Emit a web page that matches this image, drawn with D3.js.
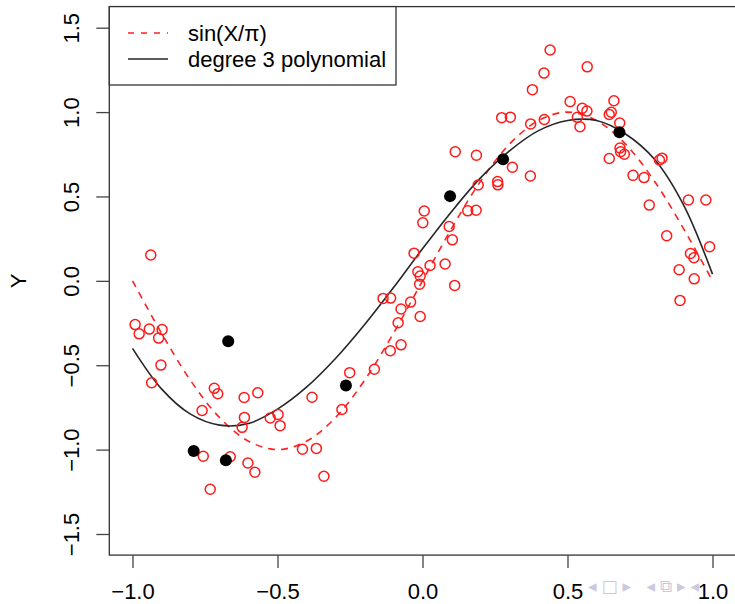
<!DOCTYPE html>
<html>
<head>
<meta charset="utf-8">
<script src="https://cdn.jsdelivr.net/npm/d3@7"></script>
<style>
  body { margin: 0; background: #fff; }
  svg { display: block; font-family: "Liberation Sans", Arial, sans-serif; }
</style>
</head>
<body>
<svg id="chart"></svg>
<script>
var width = 735, height = 604;

// noisy observations (red open circles)
var obsX = [-0.937,-0.991,-0.977,-0.942,-0.898,-0.910,-0.902,-0.934,-0.718,-0.706,-0.760,-0.615,-0.568,-0.614,-0.622,-0.525,
  -0.756,-0.663,-0.602,-0.578,-0.732,-0.498,-0.491,-0.381,-0.278,-0.251,-0.414,-0.366,-0.340,-0.166,-0.111,-0.074,-0.084,
  -0.074,-0.136,-0.110,-0.041,-0.008,-0.010,-0.008,-0.016,-0.029,0.026,0.078,0.111,0.103,0.092,0.001,0.006,0.156,0.185,
  0.113,0.186,0.192,0.259,0.260,0.310,0.372,0.273,0.303,0.373,0.420,0.379,0.419,0.440,0.568,0.509,0.551,0.567,0.534,0.543,
  0.660,0.651,0.644,0.680,0.681,0.683,0.696,0.644,0.726,0.764,0.817,0.826,0.782,0.917,0.977,0.842,0.990,0.924,0.936,0.885,
  0.937,0.888];
var obsY = [0.153,-0.259,-0.314,-0.286,-0.289,-0.339,-0.499,-0.604,-0.637,-0.669,-0.768,-0.691,-0.663,-0.809,-0.868,-0.813,
  -1.039,-1.042,-1.079,-1.134,-1.235,-0.792,-0.858,-0.690,-0.762,-0.544,-0.998,-0.993,-1.158,-0.524,-0.414,-0.379,-0.248,
  -0.167,-0.104,-0.102,-0.126,-0.211,-0.020,0.028,0.054,0.164,0.091,0.100,-0.027,0.243,0.322,0.344,0.414,0.415,0.418,
  0.765,0.744,0.568,0.588,0.569,0.673,0.621,0.967,0.970,0.930,0.956,1.133,1.231,1.368,1.268,1.062,1.023,1.006,0.969,0.913,
  1.067,0.999,0.986,0.935,0.787,0.765,0.750,0.725,0.625,0.612,0.716,0.727,0.449,0.479,0.479,0.267,0.202,0.162,0.137,0.066,
  0.012,-0.116];

// highlighted sample (black dots)
var sampleX = [-0.789,-0.678,-0.670,-0.264,0.095,0.278,0.679];
var sampleY = [-1.008,-1.063,-0.358,-0.620,0.502,0.720,0.880];

// curves
var curveX = [-1.0,-0.9,-0.8,-0.7,-0.6,-0.5,-0.4,-0.3,-0.2,-0.1,0.0,0.1,0.2,0.3,0.4,0.5,0.6,0.7,0.8,0.9,1.0];
var sinY   = [0,-0.31,-0.59,-0.81,-0.95,-1.0,-0.95,-0.81,-0.59,-0.31,0,0.31,0.59,0.81,0.95,1.0,0.95,0.81,0.59,0.31,0];
var polyY  = [-0.40,-0.64,-0.79,-0.855,-0.845,-0.76,-0.63,-0.46,-0.26,-0.04,0.19,0.41,0.61,0.77,0.89,0.95,0.95,0.87,0.72,0.45,0.04];

var xTicks = [-1.0,-0.5,0.0,0.5,1.0];
var yTicks = [-1.5,-1.0,-0.5,0.0,0.5,1.0,1.5];
var legendLabels = ["sin(X/\u03c0)", "degree 3 polynomial"];

var svg = d3.select("#chart").attr("width", width).attr("height", height);

var xScale = d3.scaleLinear().domain([-1, 1]).range([132.5, 712.5]);
var yScale = d3.scaleLinear().domain([-1.5, 1.5]).range([534, 27.7]);

var x0 = xScale(-1.08), x1 = xScale(1.08);
var y0 = yScale(-1.625), y1 = yScale(1.625);

// curves
var line = d3.line()
  .x(function(d){ return xScale(d[0]); })
  .y(function(d){ return yScale(d[1]); })
  .curve(d3.curveCatmullRom);

svg.append("path")
  .attr("d", line(d3.zip(curveX, sinY)))
  .attr("fill", "none")
  .attr("stroke", "#ff2020")
  .attr("stroke-width", 1.6)
  .attr("stroke-dasharray", "7,6");

svg.append("path")
  .attr("d", line(d3.zip(curveX, polyY)))
  .attr("fill", "none")
  .attr("stroke", "#262626")
  .attr("stroke-width", 1.6);

// points
svg.append("g").selectAll("circle")
  .data(d3.zip(obsX, obsY))
  .enter().append("circle")
  .attr("cx", d => xScale(d[0]))
  .attr("cy", d => yScale(d[1]))
  .attr("r", 5)
  .attr("fill", "none")
  .attr("stroke", "#ff1a1a")
  .attr("stroke-width", 1.5);

svg.append("g").selectAll("circle")
  .data(d3.zip(sampleX, sampleY))
  .enter().append("circle")
  .attr("cx", d => xScale(d[0]))
  .attr("cy", d => yScale(d[1]))
  .attr("r", 6)
  .attr("fill", "#000");

// box
svg.append("rect")
  .attr("x", x0).attr("y", y1)
  .attr("width", x1 - x0).attr("height", y0 - y1)
  .attr("fill", "none")
  .attr("stroke", "#333")
  .attr("stroke-width", 1.3);

// axes
var fmt = d3.format(".1f");
var xAxis = d3.axisBottom(xScale).tickValues(xTicks).tickFormat(fmt).tickSize(13);
var gx = svg.append("g")
  .attr("transform", "translate(0," + y0 + ")")
  .call(xAxis);
gx.select(".domain").remove();
gx.selectAll("line").attr("stroke", "#444").attr("stroke-width", 1.3);
gx.selectAll("text")
  .attr("y", 44).attr("dy", 0)
  .attr("fill", "#000")
  .style("font-size", "22px")
  .style("font-family", "Liberation Sans, Arial, sans-serif");

var yAxis = d3.axisLeft(yScale).tickValues(yTicks).tickFormat(fmt).tickSize(13);
var gy = svg.append("g")
  .attr("transform", "translate(" + x0 + ",0)")
  .call(yAxis);
gy.select(".domain").remove();
gy.selectAll("line").attr("stroke", "#444").attr("stroke-width", 1.3);
gy.selectAll("text")
  .attr("x", 0).attr("y", 0).attr("dy", 0)
  .attr("text-anchor", "middle")
  .attr("transform", "translate(-30,0) rotate(-90)")
  .attr("fill", "#000")
  .style("font-size", "22px")
  .style("font-family", "Liberation Sans, Arial, sans-serif");

svg.append("text")
  .attr("transform", "translate(26," + yScale(0) + ") rotate(-90)")
  .attr("text-anchor", "middle")
  .style("font-size", "22px")
  .text("Y");

// legend
var lg = svg.append("g");
lg.append("rect")
  .attr("x", x0).attr("y", y1)
  .attr("width", 396 - x0).attr("height", 85 - y1)
  .attr("fill", "#fff")
  .attr("stroke", "#333")
  .attr("stroke-width", 1.3);

var legendRows = [
  {label: legendLabels[0], color: "#ff2020", dash: "6,7"},
  {label: legendLabels[1], color: "#262626", dash: null}
];
legendRows.forEach(function(r, i){
  var ly = 33 + i * 26;
  lg.append("line")
    .attr("x1", 128).attr("x2", 168)
    .attr("y1", ly).attr("y2", ly)
    .attr("stroke", r.color)
    .attr("stroke-width", 1.5)
    .attr("stroke-dasharray", r.dash);
  lg.append("text")
    .attr("x", 188).attr("y", ly + 8)
    .style("font-size", "22px")
    .text(r.label);
});

// beamer navigation symbols, bottom right
svg.append("text")
  .attr("x", 588).attr("y", 592)
  .style("font-family", "DejaVu Sans, sans-serif")
  .style("font-size", "17px")
  .style("letter-spacing", "5px")
  .attr("fill", "#c9c9e0")
  .text("\u25c2\u25a1\u25b8 \u25c2\u29c9\u25b8\u25c2");
</script>
</body>
</html>
